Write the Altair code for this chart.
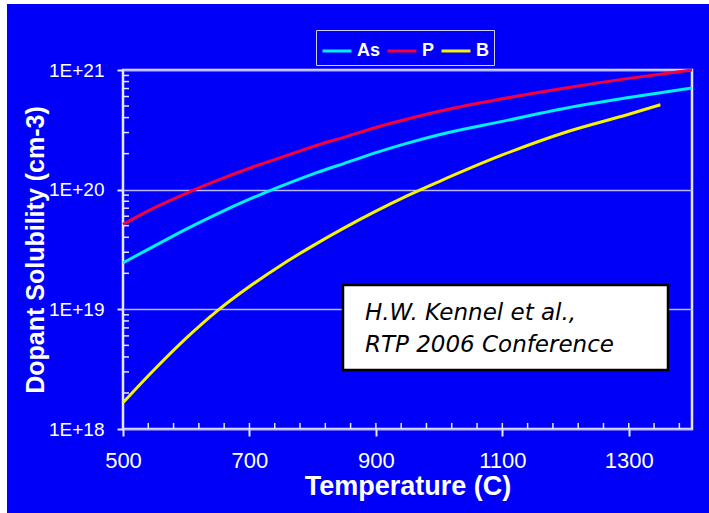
import altair as alt
import pandas as pd

# Solid solubility of dopants in silicon vs. temperature
temps = [500, 550, 600, 650, 700, 750, 800, 850, 900, 950, 1000, 1100, 1200, 1300, 1400]
as_vals = [2.45e19, 3.39e19, 4.68e19, 6.31e19, 8.32e19, 1.07e20, 1.35e20, 1.66e20, 2.04e20,
           2.45e20, 2.88e20, 3.72e20, 4.79e20, 5.89e20, 7.08e20]
p_vals = [5.13e19, 7.08e19, 9.33e19, 1.2e20, 1.51e20, 1.86e20, 2.29e20, 2.75e20, 3.31e20,
          3.89e20, 4.52e20, 5.75e20, 7.08e20, 8.51e20, 1.0e21]
b_temps = [500, 550, 600, 650, 700, 750, 800, 850, 900, 950, 1000, 1100, 1200, 1300, 1350]
b_vals = [1.66e18, 3.16e18, 5.75e18, 9.8e18, 1.55e19, 2.34e19, 3.39e19, 4.79e19, 6.61e19,
          8.91e19, 1.17e20, 1.95e20, 3.02e20, 4.27e20, 5.13e20]

dopants = ["As", "P", "B"]
colors = ["#00F0FF", "#F5003C", "#F5F500"]

x_major = [500, 700, 900, 1100, 1300]
y_major = [1e18, 1e19, 1e20, 1e21]
x_minor = list(range(540, 1400, 40))
y_minor = [m * 10.0 ** d for d in (18, 19, 20) for m in range(2, 10)]

rows = []
for t, v in zip(temps, as_vals):
    rows.append({"T": t, "C": v, "Dopant": "As"})
for t, v in zip(temps, p_vals):
    rows.append({"T": t, "C": v, "Dopant": "P"})
for t, v in zip(b_temps, b_vals):
    rows.append({"T": t, "C": v, "Dopant": "B"})
df = pd.DataFrame(rows)

W, H = 569, 359
FRAME = "#E6E6FF"
FONT = "Liberation Sans"

x_scale = alt.Scale(domain=[500, 1400], nice=False, zero=False)
y_scale = alt.Scale(type="log", domain=[1e18, 1e21], nice=False)

x_axis = alt.Axis(values=x_major, format="d", labelFlush=False,
                  title="Temperature (C)", grid=False,
                  domain=False, tickSize=7, tickWidth=2, tickColor=FRAME,
                  labelFont=FONT, labelFontSize=22, labelColor="white",
                  labelPadding=14, titleFont=FONT, titleFontSize=27,
                  titleFontWeight="bold", titleColor="white", titlePadding=2)
y_axis = alt.Axis(values=y_major, title="Dopant Solubility (cm-3)",
                  labelExpr="'1E+' + format(log(datum.value) / LN10, '.0f')",
                  labelFlush=False,
                  grid=True, gridColor="#B8B8FF", gridWidth=1.5,
                  domain=False, tickSize=6, tickWidth=2, tickColor=FRAME,
                  labelFont=FONT, labelFontSize=19, labelColor="white",
                  labelPadding=13, titleFont=FONT, titleFontSize=25,
                  titleFontWeight="bold", titleColor="white", titlePadding=0)

lines = alt.Chart(df).mark_line(strokeWidth=3, interpolate="monotone").encode(
    x=alt.X("T:Q", scale=x_scale, axis=x_axis),
    y=alt.Y("C:Q", scale=y_scale, axis=y_axis),
    color=alt.Color("Dopant:N",
                    scale=alt.Scale(domain=dopants, range=colors),
                    legend=alt.Legend(title=None, orient="none", legendX=193,
                                      legendY=-40, direction="horizontal",
                                      strokeColor="#D0D0FF", padding=5,
                                      symbolType="stroke", symbolSize=841,
                                      symbolStrokeWidth=3, labelColor="white",
                                      labelFont=FONT, labelFontSize=18,
                                      labelFontWeight="bold", columnPadding=0,
                                      labelOffset=4)),
)

# inward minor ticks
y_ticks = alt.Chart(pd.DataFrame({"C": y_minor})).mark_rule(
    color=FRAME, strokeWidth=1.5).encode(
    y=alt.Y("C:Q", scale=y_scale, axis=y_axis), x=alt.value(0), x2=alt.value(6))

x_ticks = alt.Chart(pd.DataFrame({"T": x_minor})).mark_rule(
    color=FRAME, strokeWidth=1.5).encode(
    x=alt.X("T:Q", scale=x_scale, axis=x_axis), y=alt.value(H), y2=alt.value(H - 6))

one = pd.DataFrame({"k": [0]})

# white strips along the left and top edges of the figure
edge_left = alt.Chart(one).mark_rect(color="white").encode(
    x=alt.value(-123), x2=alt.value(-116), y=alt.value(-70), y2=alt.value(443))
edge_top = alt.Chart(one).mark_rect(color="white").encode(
    x=alt.value(-123), x2=alt.value(586), y=alt.value(-70), y2=alt.value(-66))

# citation box
note_box = alt.Chart(one).mark_rect(fill="white", stroke="black", strokeWidth=2.5).encode(
    x=alt.value(220), x2=alt.value(545), y=alt.value(215), y2=alt.value(300))
note1 = alt.Chart(one).mark_text(
    font="DejaVu Sans", fontSize=23, fontStyle="italic", color="black",
    align="left", baseline="alphabetic").encode(
    x=alt.value(242), y=alt.value(250), text=alt.value("H.W. Kennel et al.,"))
note2 = alt.Chart(one).mark_text(
    font="DejaVu Sans", fontSize=23, fontStyle="italic", color="black",
    align="left", baseline="alphabetic").encode(
    x=alt.value(242), y=alt.value(282), text=alt.value("RTP 2006 Conference"))

chart = alt.layer(
    lines, y_ticks, x_ticks, note_box, note1, note2, edge_left, edge_top
).properties(
    width=W, height=H, background="#0000FA",
    autosize=alt.AutoSizeParams(type="none"),
    padding={"left": 123, "top": 70, "right": 17, "bottom": 84},
).configure_view(stroke=FRAME, strokeWidth=2.5)

chart.save("out.html", embed_options={"renderer": "svg", "actions": False})
